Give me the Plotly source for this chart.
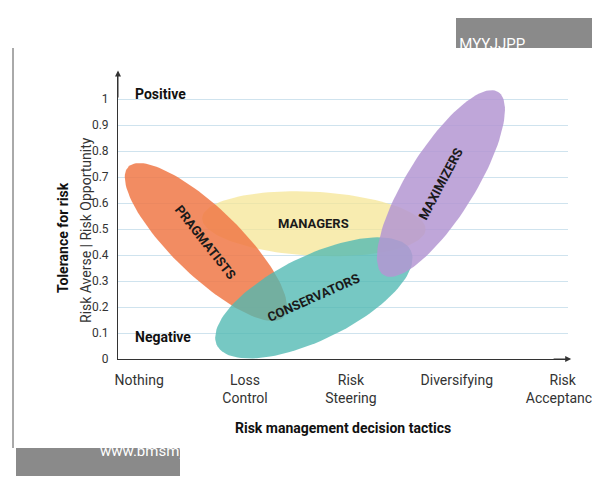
import numpy as np
import plotly.graph_objects as go

categories = ["Nothing", "Loss<br>Control", "Risk<br>Steering", "Diversifying", "Risk<br>Acceptance"]
y_ticks = [0, 0.1, 0.2, 0.3, 0.4, 0.5, 0.6, 0.7, 0.8, 0.9, 1]
groups = ["MANAGERS", "PRAGMATISTS", "CONSERVATORS", "MAXIMIZERS"]
cx = [1.65, 0.63, 1.65, 2.85]
cy = [0.52, 0.45, 0.235, 0.675]
ax_a = [112, 108, 108, 108]
ax_b = [32, 34, 42, 34]
ang = [-3, -44, 26, 58]
fills = ["rgba(245,230,150,0.75)", "rgba(240,120,70,0.85)", "rgba(80,185,178,0.78)", "rgba(180,150,210,0.85)"]
txt_ang = [0, 52, -24, -62]

XU, YU = 106.0, 260.0
W, H = 450.0, 286.0
def px2paper(px, py):
    return (px - 110) / W, (480 - 129 - py) / H

fig = go.Figure()
t = np.linspace(0, 2*np.pi, 120)
for i in range(4):
    th = np.radians(ang[i])
    px = ax_a[i]*np.cos(t)*np.cos(th) - ax_b[i]*np.sin(t)*np.sin(th)
    py = ax_a[i]*np.cos(t)*np.sin(th) + ax_b[i]*np.sin(t)*np.cos(th)
    fig.add_trace(go.Scatter(x=cx[i]+px/XU, y=cy[i]+py/YU, fill="toself", fillcolor=fills[i],
                             mode="lines", line=dict(width=0), hoverinfo="skip", showlegend=False))
for i in range(4):
    fig.add_annotation(x=cx[i], y=cy[i], text="<b>"+groups[i]+"</b>", textangle=txt_ang[i],
                       showarrow=False, font=dict(size=13, color="#1a1a1a", family="Roboto"))

fig.update_layout(
    width=600, height=480, margin=dict(l=110, r=40, t=65, b=129, autoexpand=False),
    plot_bgcolor="rgba(0,0,0,0)", paper_bgcolor="white",
    font=dict(family="Roboto", color="#333", size=13),
    xaxis=dict(range=[-0.2, 4.05], tickvals=list(range(5)), ticktext=categories, showgrid=False,
               zeroline=False, showline=True, linecolor="#333", ticks="", fixedrange=True,
               automargin=False, tickfont=dict(size=14), ticklabelstandoff=8),
    yaxis=dict(range=[0, 1.1], tickvals=y_ticks, ticktext=[str(v) for v in y_ticks],
               showgrid=True, gridcolor="#cfe3ee", zeroline=False, showline=True, linecolor="#333",
               ticks="", ticklabelstandoff=6, automargin=False, tickfont=dict(size=12)),
)
def ann(px, py, text, **kw):
    x, y = px2paper(px, py)
    fig.add_annotation(xref="paper", yref="paper", x=x, y=y, text=text, showarrow=False, **kw)

ann(125, 76, "<b>Positive</b>", xanchor="left", font=dict(size=14, color="#111"))
ann(125, 339, "<b>Negative</b>", xanchor="left", font=dict(size=14, color="#111"))
ann(45, 230, "<b>Tolerance for risk</b>", textangle=-90, font=dict(size=14, color="#111"))
ann(68, 222, "Risk Averse | Risk Opportunity", textangle=-90, font=dict(size=14, color="#333"))
ann(335, 430, "<b>Risk management decision tactics</b>", font=dict(size=14, color="#111"))
fig.add_annotation(x=-0.2, y=1.11, ax=-0.2, ay=1.0, axref="x", ayref="y", showarrow=True, arrowhead=2, arrowsize=1.2, arrowwidth=1, arrowcolor="#333", text="")
fig.add_annotation(x=4.08, y=0, ax=3.9, ay=0, axref="x", ayref="y", showarrow=True, arrowhead=2, arrowsize=1.2, arrowwidth=1, arrowcolor="#333", text="")
# watermarks
x0, y0 = px2paper(448, 40); x1, y1 = px2paper(590, 10)
fig.add_shape(type="rect", xref="paper", yref="paper", x0=x0, x1=x1, y0=y0, y1=y1, fillcolor="#8a8a8a", line_width=0, layer="below")
ann(519, 25, "TG: MYYJJPP", font=dict(size=15, color="white"))
x0, y0 = px2paper(8, 468); x1, y1 = px2paper(172, 440)
fig.add_shape(type="rect", xref="paper", yref="paper", x0=x0, x1=x1, y0=y0, y1=y1, fillcolor="#8a8a8a", line_width=0, layer="below")
ann(90, 454, "www.bmsmy.com", font=dict(size=15, color="white"))
x0, y0 = px2paper(5, 440); x1, y1 = px2paper(5, 40)
fig.add_shape(type="line", xref="paper", yref="paper", x0=x0, x1=x1, y0=y0, y1=y1, line=dict(color="#555", width=1))
fig.write_html("out.html")
